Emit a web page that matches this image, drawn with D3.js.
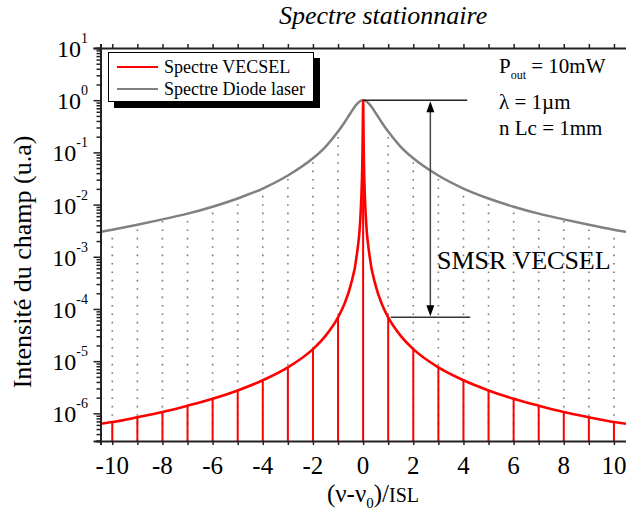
<!DOCTYPE html>
<html>
<head>
<meta charset="utf-8">
<script src="https://cdn.jsdelivr.net/npm/d3@7"></script>
<style>
    body { margin: 0; background: #fff; }
    text { font-family: "Liberation Serif", "DejaVu Serif", serif; }
</style>
</head>
<body>
<svg id="spectre"></svg>
<script>
// mode orders (x ticks) and labels
const xTickValues = [-10, -8, -6, -4, -2, 0, 2, 4, 6, 8, 10];
const xMinorTicks = [-10, -9, -8, -7, -6, -5, -4, -3, -2, -1, 0, 1, 2, 3, 4, 5, 6, 7, 8, 9, 10];
const yTickExps = [1, 0, -1, -2, -3, -4, -5, -6];

// VECSEL spectrum
const vecselX = [-10.47, -10, -9, -8, -7, -6, -5, -4, -3, -2, -1.5, -1, -0.75, -0.5, -0.25, -0.1, -0.05, -0.03, -0.02, -0.01, -0.005,
    0, 0.005, 0.01, 0.02, 0.03, 0.05, 0.1, 0.25, 0.5, 0.75, 1, 1.5, 2, 3, 4, 5, 6, 7, 8, 9, 10, 10.6];
const vecselY = [6.3e-7, 6.8e-7, 8.4e-7, 1.06e-6, 1.4e-6, 1.9e-6, 2.75e-6, 4.3e-6, 7.6e-6, 1.7e-5, 3.05e-5, 6.9e-5, 1.23e-4, 2.8e-4, 1.1e-3, 6.8e-3, 2.7e-2, 7e-2, 0.15, 0.41, 0.73,
    1, 0.73, 0.41, 0.15, 7e-2, 2.7e-2, 6.8e-3, 1.1e-3, 2.8e-4, 1.23e-4, 6.9e-5, 3.05e-5, 1.7e-5, 7.6e-6, 4.3e-6, 2.75e-6, 1.9e-6, 1.4e-6, 1.06e-6, 8.4e-7, 6.8e-7, 6.2e-7];

// diode laser spectrum
const diodeX = [-10.47, -10, -9, -8, -7, -6, -5, -4, -3, -2, -1.5, -1, -0.75, -0.5, -0.25, -0.125,
    0, 0.125, 0.25, 0.5, 0.75, 1, 1.5, 2, 3, 4, 5, 6, 7, 8, 9, 10, 10.6];
const diodeY = [3.0e-3, 3.3e-3, 4.1e-3, 5.2e-3, 6.7e-3, 9.1e-3, 1.31e-2, 2.03e-2, 3.6e-2, 7.7e-2, 0.128, 0.25, 0.37, 0.57, 0.84, 0.955,
    1, 0.955, 0.84, 0.57, 0.37, 0.25, 0.128, 7.7e-2, 3.6e-2, 2.03e-2, 1.31e-2, 9.1e-3, 6.7e-3, 5.2e-3, 4.1e-3, 3.3e-3, 2.95e-3];

const legendLabels = ['Spectre VECSEL', 'Spectre Diode laser'];

class Spectre {
    constructor() {
        this.width = 626;
        this.height = 516;
        this.left = 100.5;
        this.right = 629;
        this.top = 48;
        this.bottom = 441;
        this.scaleX = d3.scaleLinear()
            .domain([-10.47, 10.6])
            .range([this.left, this.right]);
        this.scaleY = d3.scaleLog()
            .domain([Math.pow(10, -6.53), 10])
            .range([this.bottom, this.top]);
        this.vecsel = vecselX.map((x, i) => ({x: x, y: vecselY[i]}));
        this.diode = diodeX.map((x, i) => ({x: x, y: diodeY[i]}));
        this.drawPlot();
    }

    drawPlot() {
        let that = this;
        let svg = d3.select('#spectre')
            .attr('width', this.width)
            .attr('height', this.height)
            .attr('font-family', '"Liberation Serif", "DejaVu Serif", serif');

        svg.append('clipPath').attr('id', 'clip')
            .append('rect')
            .attr('x', this.left).attr('y', this.top)
            .attr('width', this.right - this.left).attr('height', this.bottom - this.top);

        let plot = svg.append('g').attr('clip-path', 'url(#clip)');

        // dotted mode lines up to the diode curve
        let diodeModes = this.diode.filter(d => Number.isInteger(d.x) && d.x !== 0);
        plot.selectAll('.dot-line')
            .data(diodeModes)
            .join('line')
            .attr('x1', d => that.scaleX(d.x)).attr('x2', d => that.scaleX(d.x))
            .attr('y1', this.bottom).attr('y2', d => that.scaleY(d.y))
            .attr('stroke', '#777')
            .attr('stroke-width', 1.6)
            .attr('stroke-dasharray', '1.6,6.8');

        let line = d3.line()
            .x(d => that.scaleX(d.x))
            .y(d => that.scaleY(d.y))
            .curve(d3.curveMonotoneX);

        plot.append('path')
            .datum(this.diode)
            .attr('fill', 'none')
            .attr('stroke', '#808080')
            .attr('stroke-width', 2.5)
            .attr('d', line);

        // VECSEL stems
        let vecselModes = this.vecsel.filter(d => Number.isInteger(d.x));
        plot.selectAll('.stem')
            .data(vecselModes)
            .join('line')
            .attr('x1', d => that.scaleX(d.x)).attr('x2', d => that.scaleX(d.x))
            .attr('y1', this.bottom).attr('y2', d => that.scaleY(d.y))
            .attr('stroke', '#ff0000')
            .attr('stroke-width', 2);

        plot.append('path')
            .datum(this.vecsel)
            .attr('fill', 'none')
            .attr('stroke', '#ff0000')
            .attr('stroke-width', 2.6)
            .attr('d', line);

        // axes
        let axisColor = '#222';
        svg.append('g')
            .attr('transform', 'translate(0,' + this.bottom + ')')
            .call(d3.axisBottom(this.scaleX).tickValues(xMinorTicks).tickSize(4).tickFormat(''));
        svg.append('g')
            .attr('transform', 'translate(0,' + this.top + ')')
            .call(d3.axisTop(this.scaleX).tickValues(xMinorTicks).tickSize(4).tickFormat(''));

        let minor = [];
        for (let e = -7; e < 1; e++) {
            for (let m = 2; m < 10; m++) {
                let v = m * Math.pow(10, e);
                if (v > this.scaleY.domain()[0]) minor.push(v);
            }
        }
        svg.append('g')
            .attr('transform', 'translate(' + this.left + ',0)')
            .call(d3.axisLeft(this.scaleY).tickValues(minor).tickSize(4).tickFormat(''));
        svg.append('g')
            .attr('transform', 'translate(' + this.left + ',0)')
            .call(d3.axisLeft(this.scaleY).tickValues(yTickExps.map(e => Math.pow(10, e))).tickSize(7).tickFormat(''));

        svg.selectAll('.domain').attr('stroke', axisColor).attr('stroke-width', 2);
        svg.selectAll('.tick line').attr('stroke', axisColor).attr('stroke-width', 1.5);

        // x tick labels
        svg.selectAll('.xlab')
            .data(xTickValues)
            .join('text')
            .attr('x', d => that.scaleX(d))
            .attr('y', 474)
            .attr('text-anchor', 'middle')
            .attr('font-size', 25)
            .text(d => d);

        // y tick labels
        let ylab = svg.selectAll('.ylab')
            .data(yTickExps)
            .join('text')
            .attr('x', 88)
            .attr('y', d => that.scaleY(Math.pow(10, d)) + 9)
            .attr('text-anchor', 'end')
            .attr('font-size', 24);
        ylab.append('tspan').text('10');
        ylab.append('tspan').attr('dy', -14).attr('font-size', 14).text(d => d);

        // axis titles
        let xt = svg.append('text')
            .attr('x', 373).attr('y', 502)
            .attr('text-anchor', 'middle')
            .attr('font-size', 25);
        xt.append('tspan').text('(\u03bd-\u03bd');
        xt.append('tspan').attr('font-size', 15).attr('dy', 6).text('0');
        xt.append('tspan').attr('dy', -6).text(')/');
        xt.append('tspan').attr('font-size', 20).text('ISL');

        svg.append('text')
            .attr('transform', 'translate(31,262) rotate(-90)')
            .attr('text-anchor', 'middle')
            .attr('font-size', 26)
            .text('Intensit\u00e9 du champ (u.a)');

        svg.append('text')
            .attr('x', 279).attr('y', 24)
            .attr('font-size', 26)
            .attr('font-style', 'italic')
            .text('Spectre stationnaire');

        // legend
        let lg = svg.append('g');
        lg.append('rect').attr('x', 114).attr('y', 58).attr('width', 206).attr('height', 50).attr('fill', '#000');
        lg.append('rect').attr('x', 108.5).attr('y', 52.5).attr('width', 205).attr('height', 49)
            .attr('fill', '#fff').attr('stroke', '#000').attr('stroke-width', 1);
        let colors = ['#ff0000', '#808080'];
        legendLabels.forEach(function (l, i) {
            lg.append('line').attr('x1', 117).attr('x2', 158)
                .attr('y1', 67 + i * 22).attr('y2', 67 + i * 22)
                .attr('stroke', colors[i]).attr('stroke-width', 2);
            lg.append('text').attr('x', 164).attr('y', 73 + i * 22)
                .attr('font-size', 18).text(l);
        });

        // parameters
        let p = svg.append('text').attr('x', 499).attr('y', 73).attr('font-size', 21);
        p.append('tspan').text('P');
        p.append('tspan').attr('font-size', 12).attr('dy', 6).text('out');
        p.append('tspan').attr('dy', -6).text(' = 10mW');
        svg.append('text').attr('x', 499).attr('y', 109).attr('font-size', 21).text('\u03bb = 1\u00b5m');
        svg.append('text').attr('x', 499).attr('y', 135).attr('font-size', 21).text('n Lc = 1mm');

        // SMSR annotation
        let peak = this.scaleY(1);
        let side = this.scaleY(vecselY[vecselX.indexOf(1)]);
        let ax = this.scaleX(2.68);
        svg.append('line').attr('x1', this.scaleX(0)).attr('x2', this.scaleX(4.15))
            .attr('y1', peak).attr('y2', peak).attr('stroke', '#222').attr('stroke-width', 1.5);
        svg.append('line').attr('x1', this.scaleX(1.1)).attr('x2', this.scaleX(4.27))
            .attr('y1', side).attr('y2', side).attr('stroke', '#333').attr('stroke-width', 1.5);
        svg.append('line').attr('x1', ax).attr('x2', ax)
            .attr('y1', peak + 10).attr('y2', side - 10).attr('stroke', '#444').attr('stroke-width', 1.5);
        svg.append('path')
            .attr('d', 'M' + ax + ',' + (peak + 1) + 'l-4,11h8z')
            .attr('fill', '#000');
        svg.append('path')
            .attr('d', 'M' + ax + ',' + (side - 1) + 'l-4,-11h8z')
            .attr('fill', '#000');
        svg.append('text').attr('x', 437).attr('y', 269).attr('font-size', 26).text('SMSR VECSEL');
    }
}

new Spectre();
</script>
</body>
</html>
